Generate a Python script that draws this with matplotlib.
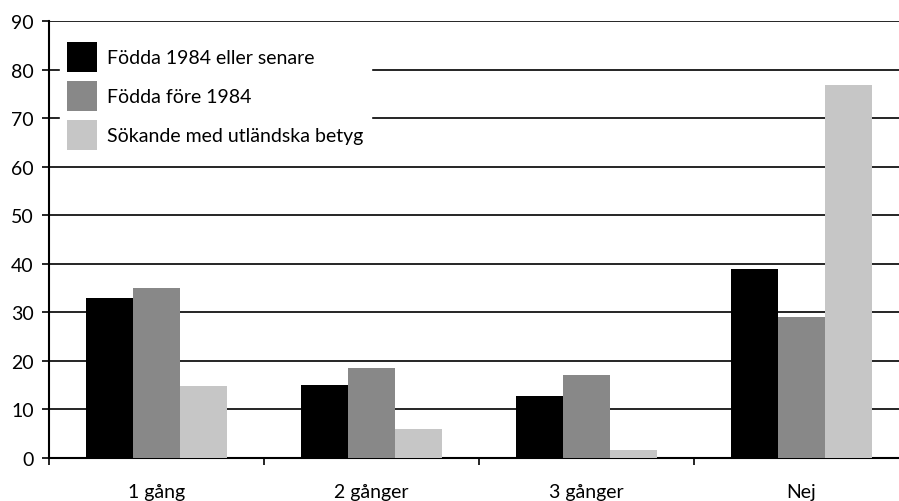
import numpy as np
from matplotlib import pyplot as plt
from matplotlib.patches import Patch

plt.rcParams['font.family'] = ['Lato', 'DejaVu Sans']

# Data
categories = ['1 gång', '2 gånger', '3 gånger', 'Nej']
series_names = ['Födda 1984 eller senare', 'Födda före 1984', 'Sökande med utländska betyg']
born_after = [33, 15, 12.7, 38.9]
born_before = [35.1, 18.6, 17.0, 29.0]
foreign = [14.9, 6.0, 1.7, 76.8]
colors = ['#000000', '#888888', '#c6c6c6']

fig = plt.figure(figsize=(8.99, 5.02), dpi=100)
ax = fig.add_axes([49/899, 43/502, 860/899, 437/502])

x = np.arange(len(categories))
w = 0.22
for i, (vals, c) in enumerate(zip([born_after, born_before, foreign], colors)):
    ax.bar(x + (i-1)*w, vals, width=w, color=c, zorder=3, linewidth=0)

# Gridlines
for yv in range(10, 100, 10):
    ax.axhline(yv, color='black', lw=1.2, zorder=1)

ax.set_xlim(-0.5, 3.5)
ax.set_ylim(0, 90)
ax.set_yticks(range(0, 100, 10))
ax.set_xticks(np.arange(-0.5, 4, 1))
ax.set_xticklabels([])
ax.set_xticks(x, minor=True)
ax.set_xticklabels(categories, minor=True, fontsize=14)
ax.tick_params(axis='x', which='minor', length=0, pad=18)
ax.tick_params(axis='x', which='major', length=5, width=1.2, direction='out')
ax.tick_params(axis='y', length=5, width=1.2, labelsize=14, pad=6)
for s in ['top', 'right']:
    ax.spines[s].set_visible(False)
ax.spines['left'].set_linewidth(1.5)
ax.spines['bottom'].set_linewidth(1.5)

handles = [Patch(facecolor=c, edgecolor='none') for c in colors]
leg = ax.legend(handles, series_names, loc='upper left', bbox_to_anchor=(0.001, 0.992),
                fontsize=14, frameon=True, fancybox=False, edgecolor='white',
                framealpha=1, handlelength=1.55, handleheight=2.0,
                labelspacing=0.45, handletextpad=0.5, borderpad=0.4)
leg.set_zorder(5)

plt.savefig('out.png', dpi=100)
